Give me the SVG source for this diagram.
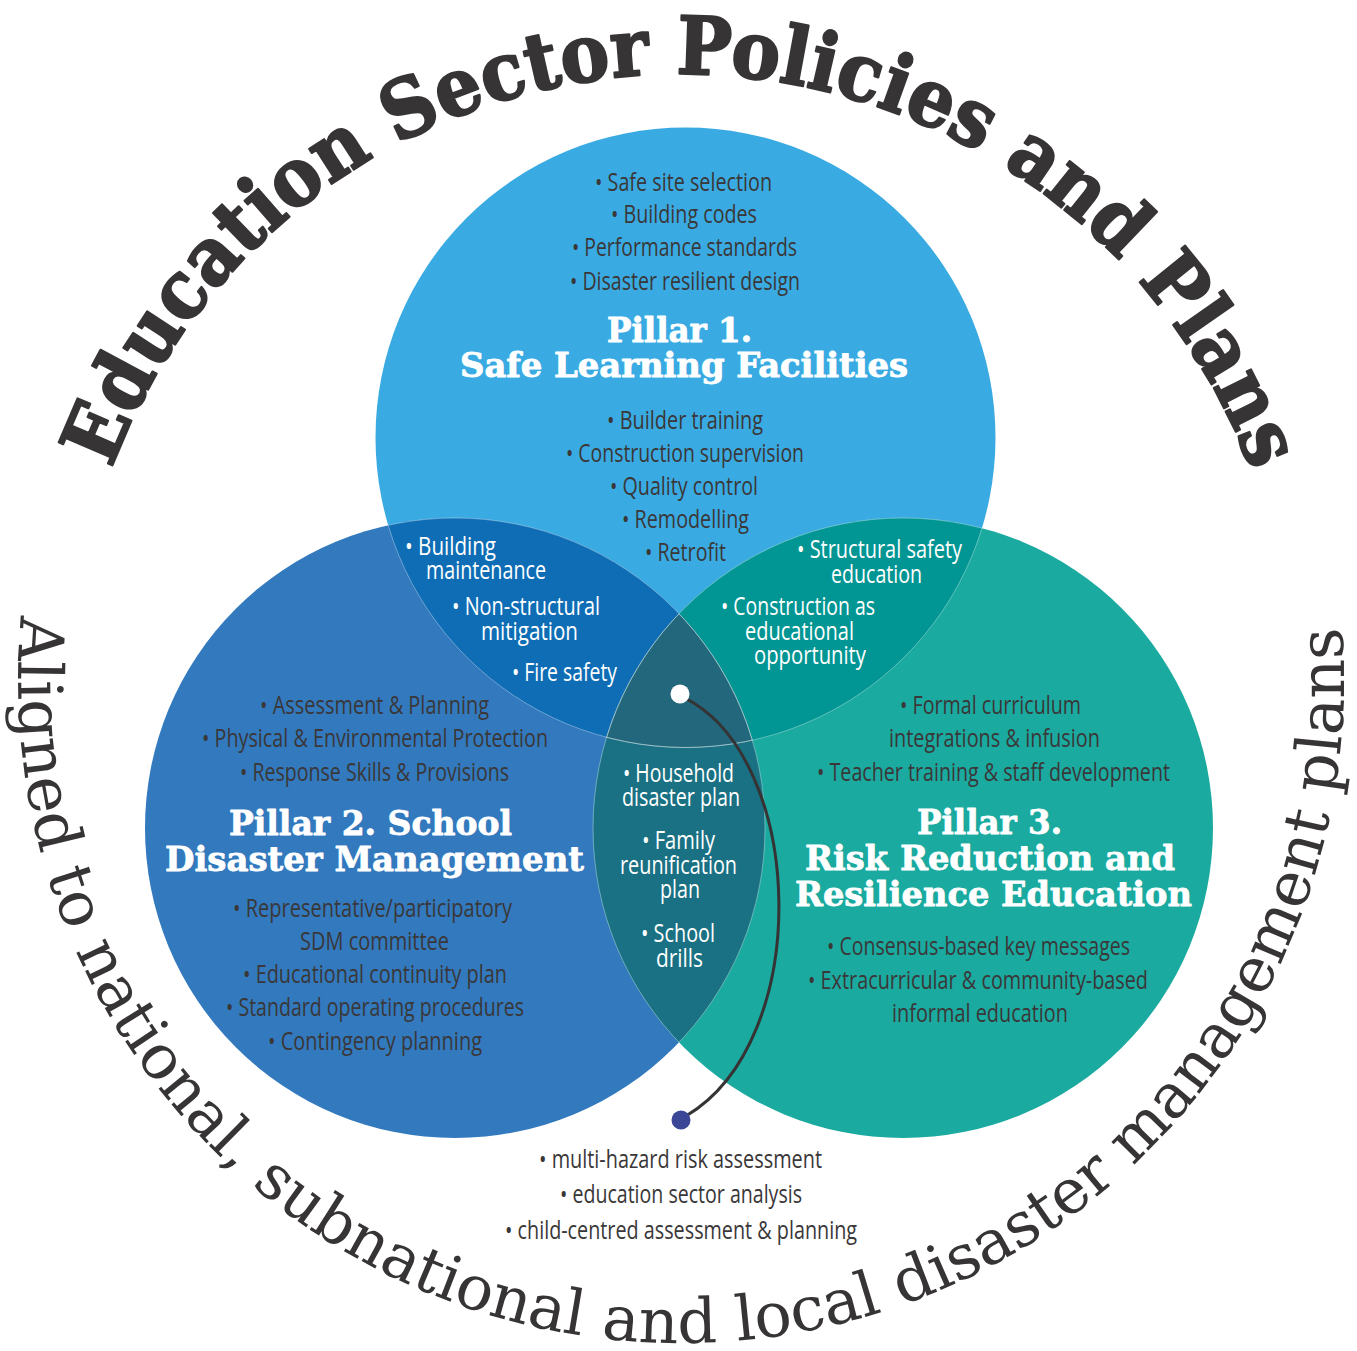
<svg xmlns="http://www.w3.org/2000/svg" width="1357" height="1351" viewBox="0 0 1357 1351">
<style>
.b{font-family:"Open Sans","Noto Sans",sans-serif;font-size:26px;fill:#3a3738;}
.w{font-family:"Open Sans","Noto Sans",sans-serif;font-size:25px;fill:#ffffff;}
.h{font-family:"DejaVu Serif",serif;font-weight:bold;font-size:34px;fill:#ffffff;stroke:#ffffff;stroke-width:0.8;stroke-linejoin:round;}
.hc{font-stretch:condensed;}
.m{text-anchor:middle;}
.title{font-family:"DejaVu Serif",serif;font-weight:bold;font-size:80px;fill:#373435;stroke:#373435;stroke-width:2.2;stroke-linejoin:round;}
.sub{font-family:"DejaVu Serif",serif;font-size:62px;fill:#373435;}
.edge{fill:none;stroke:#ffffff;stroke-opacity:0.35;stroke-width:1;}
.conn{fill:none;stroke:#353334;stroke-width:3;}
</style>
<defs>
<clipPath id="cT"><circle cx="685.5" cy="437.5" r="310"/></clipPath>
<clipPath id="cL"><circle cx="455" cy="828" r="310"/></clipPath>
<clipPath id="cR"><circle cx="903" cy="828" r="310"/></clipPath>
<path id="arcTop" d="M 111.7 468.7 A 608 608 0 0 1 1251.4 471.4"/>
<path id="arcBot" d="M 21.1 615.9 A 663 663 0 1 0 1341.8 626.3"/>
</defs>
<rect width="1357" height="1351" fill="#ffffff"/>

<g id="venn">
<circle cx="685.5" cy="437.5" r="310" fill="#3AABE2"/>
<circle cx="455" cy="828" r="310" fill="#3279BE"/>
<circle cx="903" cy="828" r="310" fill="#1AAA9F"/>
<circle cx="685.5" cy="437.5" r="310" fill="#0E6DB5" clip-path="url(#cL)"/>
<circle cx="685.5" cy="437.5" r="310" fill="#019593" clip-path="url(#cR)"/>
<circle cx="455" cy="828" r="310" fill="#1A7183" clip-path="url(#cR)"/>
<g clip-path="url(#cT)"><circle cx="455" cy="828" r="310" fill="#22677B" clip-path="url(#cR)"/></g>
<g clip-path="url(#cT)"><circle class="edge" cx="455" cy="828" r="310"/><circle class="edge" cx="903" cy="828" r="310"/></g>
<g clip-path="url(#cL)"><circle class="edge" cx="685.5" cy="437.5" r="310"/><circle class="edge" cx="903" cy="828" r="310"/></g>
<g clip-path="url(#cR)"><circle class="edge" cx="685.5" cy="437.5" r="310"/><circle class="edge" cx="455" cy="828" r="310"/></g>
</g>

<g id="title">
<text class="title"><textPath href="#arcTop" textLength="1477" lengthAdjust="spacingAndGlyphs">Education Sector Policies and Plans</textPath></text>
</g>
<g id="subtitle">
<text class="sub"><textPath href="#arcBot" textLength="2200" lengthAdjust="spacingAndGlyphs">Aligned to national, subnational and local disaster management plans</textPath></text>
</g>

<g id="pillar1">
<text class="b m" x="683.5" y="191" textLength="177" lengthAdjust="spacingAndGlyphs">• Safe site selection</text>
<text class="b m" x="684" y="223" textLength="146" lengthAdjust="spacingAndGlyphs">• Building codes</text>
<text class="b m" x="684.5" y="256" textLength="225" lengthAdjust="spacingAndGlyphs">• Performance standards</text>
<text class="b m" x="685" y="290" textLength="230" lengthAdjust="spacingAndGlyphs">• Disaster resilient design</text>
<text class="h hc m" x="679.5" y="342" textLength="145" lengthAdjust="spacingAndGlyphs">Pillar 1.</text>
<text class="h hc m" x="684" y="377" textLength="448" lengthAdjust="spacingAndGlyphs">Safe Learning Facilities</text>
<text class="b m" x="685" y="429" textLength="156" lengthAdjust="spacingAndGlyphs">• Builder training</text>
<text class="b m" x="685" y="462" textLength="238" lengthAdjust="spacingAndGlyphs">• Construction supervision</text>
<text class="b m" x="684" y="495" textLength="148" lengthAdjust="spacingAndGlyphs">• Quality control</text>
<text class="b m" x="685.5" y="528" textLength="127" lengthAdjust="spacingAndGlyphs">• Remodelling</text>
<text class="b m" x="685.5" y="561" textLength="81" lengthAdjust="spacingAndGlyphs">• Retrofit</text>
</g>

<g id="pillar2">
<text class="b m" x="374.5" y="714" textLength="229" lengthAdjust="spacingAndGlyphs">• Assessment &amp; Planning</text>
<text class="b m" x="375" y="747" textLength="346" lengthAdjust="spacingAndGlyphs">• Physical &amp; Environmental Protection</text>
<text class="b m" x="374.5" y="781" textLength="269" lengthAdjust="spacingAndGlyphs">• Response Skills &amp; Provisions</text>
<text class="h m" x="370.5" y="835" textLength="283" lengthAdjust="spacingAndGlyphs">Pillar 2. School</text>
<text class="h m" x="374.5" y="871" textLength="419" lengthAdjust="spacingAndGlyphs">Disaster Management</text>
<text class="b m" x="372.5" y="917" textLength="279" lengthAdjust="spacingAndGlyphs">• Representative/participatory</text>
<text class="b m" x="374.5" y="950" textLength="149" lengthAdjust="spacingAndGlyphs">SDM committee</text>
<text class="b m" x="375" y="983" textLength="264" lengthAdjust="spacingAndGlyphs">• Educational continuity plan</text>
<text class="b m" x="375" y="1016" textLength="298" lengthAdjust="spacingAndGlyphs">• Standard operating procedures</text>
<text class="b m" x="375" y="1050" textLength="214" lengthAdjust="spacingAndGlyphs">• Contingency planning</text>
</g>

<g id="pillar3">
<text class="b m" x="990.5" y="714" textLength="181" lengthAdjust="spacingAndGlyphs">• Formal curriculum</text>
<text class="b m" x="994.5" y="747" textLength="211" lengthAdjust="spacingAndGlyphs">integrations &amp; infusion</text>
<text class="b m" x="993.5" y="781" textLength="353" lengthAdjust="spacingAndGlyphs">• Teacher training &amp; staff development</text>
<text class="h m" x="989.5" y="834" textLength="145" lengthAdjust="spacingAndGlyphs">Pillar 3.</text>
<text class="h m" x="990" y="870" textLength="370" lengthAdjust="spacingAndGlyphs">Risk Reduction and</text>
<text class="h m" x="993.5" y="906" textLength="397" lengthAdjust="spacingAndGlyphs">Resilience Education</text>
<text class="b m" x="978.5" y="955" textLength="303" lengthAdjust="spacingAndGlyphs">• Consensus-based key messages</text>
<text class="b m" x="978" y="989" textLength="340" lengthAdjust="spacingAndGlyphs">• Extracurricular &amp; community-based</text>
<text class="b m" x="980" y="1022" textLength="176" lengthAdjust="spacingAndGlyphs">informal education</text>
</g>

<g id="overlap-1-2">
<text class="w" x="405" y="555" textLength="91" lengthAdjust="spacingAndGlyphs">• Building</text>
<text class="w" x="426" y="579" textLength="120" lengthAdjust="spacingAndGlyphs">maintenance</text>
<text class="w" x="452" y="615" textLength="148" lengthAdjust="spacingAndGlyphs">• Non-structural</text>
<text class="w" x="481" y="640" textLength="97" lengthAdjust="spacingAndGlyphs">mitigation</text>
<text class="w" x="512" y="681" textLength="105" lengthAdjust="spacingAndGlyphs">• Fire safety</text>
</g>

<g id="overlap-1-3">
<text class="w" x="797" y="558" textLength="165" lengthAdjust="spacingAndGlyphs">• Structural safety</text>
<text class="w" x="831" y="583" textLength="91" lengthAdjust="spacingAndGlyphs">education</text>
<text class="w" x="721" y="615" textLength="154" lengthAdjust="spacingAndGlyphs">• Construction as</text>
<text class="w" x="745" y="640" textLength="109" lengthAdjust="spacingAndGlyphs">educational</text>
<text class="w" x="754" y="664" textLength="112" lengthAdjust="spacingAndGlyphs">opportunity</text>
</g>

<g id="overlap-2-3">
<text class="w" x="623" y="782" textLength="111" lengthAdjust="spacingAndGlyphs">• Household</text>
<text class="w" x="622" y="806" textLength="118" lengthAdjust="spacingAndGlyphs">disaster plan</text>
<text class="w" x="642" y="849" textLength="73" lengthAdjust="spacingAndGlyphs">• Family</text>
<text class="w" x="620" y="874" textLength="117" lengthAdjust="spacingAndGlyphs">reunification</text>
<text class="w" x="660" y="898" textLength="40" lengthAdjust="spacingAndGlyphs">plan</text>
<text class="w" x="641" y="942" textLength="74" lengthAdjust="spacingAndGlyphs">• School</text>
<text class="w" x="656" y="967" textLength="47" lengthAdjust="spacingAndGlyphs">drills</text>
</g>

<g id="connectors">
<path class="conn" d="M 685 698 C 806 760, 814 1040, 686 1116"/>
<circle cx="680" cy="694" r="9.5" fill="#ffffff"/>
<circle cx="681" cy="1120" r="9.5" fill="#3C4696"/>
</g>

<g id="assessment">
<text class="b m" x="680.5" y="1168" textLength="283" lengthAdjust="spacingAndGlyphs">• multi-hazard risk assessment</text>
<text class="b m" x="681" y="1203" textLength="242" lengthAdjust="spacingAndGlyphs">• education sector analysis</text>
<text class="b m" x="681" y="1239" textLength="352" lengthAdjust="spacingAndGlyphs">• child-centred assessment &amp; planning</text>
</g>
</svg>
